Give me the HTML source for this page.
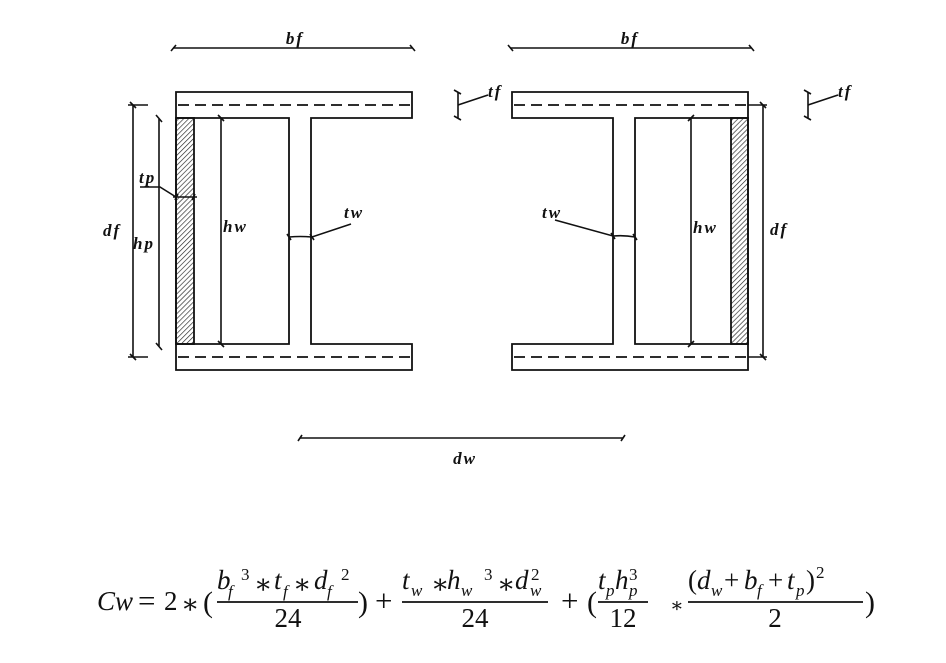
<!DOCTYPE html>
<html><head><meta charset="utf-8"><style>
html,body{margin:0;padding:0;background:#fff;}
svg{display:block;}
.l{font-family:"Liberation Serif",serif;font-style:italic;font-weight:bold;font-size:17px;letter-spacing:2px;fill:#111;}
.m{font-family:"Liberation Serif","DejaVu Serif",serif;font-size:27px;fill:#111;}
.i{font-style:italic;}
.s{font-size:17px;}
.o{font-size:31px;}
</style></head><body>
<svg width="946" height="663" viewBox="0 0 946 663" xmlns="http://www.w3.org/2000/svg">
<defs>
<pattern id="h" patternUnits="userSpaceOnUse" width="3.5" height="3.5" patternTransform="rotate(45)">
<line x1="0" y1="0" x2="0" y2="3.5" stroke="#222" stroke-width="1.3"/>
</pattern>
</defs>
<rect width="946" height="663" fill="#fff"/>
<g stroke="#111" stroke-width="1.8" fill="none">
<!-- LEFT SECTION -->
<rect x="176" y="118" width="18" height="226" fill="url(#h)" stroke="#111"/>
<path d="M176,92 H412 V118 H311 V344 H412 V370 H176 Z"/>
<path d="M176,118 H289 V344 H176"/>
<line x1="178" y1="105" x2="410" y2="105" stroke-dasharray="11,6"/>
<line x1="178" y1="357" x2="410" y2="357" stroke-dasharray="11,6"/>
<!-- RIGHT SECTION -->
<rect x="731" y="118" width="17" height="226" fill="url(#h)" stroke="#111"/>
<path d="M748,92 H512 V118 H613 V344 H512 V370 H748 Z"/>
<path d="M748,118 H635 V344 H748"/>
<line x1="514" y1="105" x2="746" y2="105" stroke-dasharray="11,6"/>
<line x1="514" y1="357" x2="746" y2="357" stroke-dasharray="11,6"/>
</g>
<g stroke="#111" stroke-width="1.6" fill="none">
<!-- bf left -->
<line x1="173" y1="48" x2="412" y2="48"/>
<path d="M171,51 L176,45 M410,45 L415,51"/>
<!-- bf right -->
<line x1="510" y1="48" x2="751" y2="48"/>
<path d="M508,45 L513,51 M749,45 L754,51"/>
<!-- df left -->
<line x1="133" y1="105" x2="133" y2="357"/>
<line x1="128" y1="105" x2="148" y2="105"/>
<line x1="128" y1="357" x2="148" y2="357"/>
<path d="M130,102 L136,108 M130,354 L136,360"/>
<!-- hp left -->
<line x1="159" y1="119" x2="159" y2="346"/>
<path d="M156,115 L162,122 M156,343 L162,350"/>
<!-- hw left -->
<line x1="221" y1="118" x2="221" y2="344"/>
<path d="M218,115 L224,121 M218,341 L224,347"/>
<!-- tp leader -->
<path d="M140,187 H160 L176,197"/>
<line x1="173" y1="197" x2="197" y2="197"/>
<path d="M175,200 L178,194 M192,200 L195,194"/>
<!-- tw left -->
<path d="M351,224 L312,237 Q300,236 289,237"/>
<path d="M287,234 L291,240 M310,234 L314,240"/>
<!-- tf marks -->
<line x1="458" y1="92" x2="458" y2="118"/>
<path d="M454,90 L461,94 M454,116 L461,120 M458,105 L488,95"/>
<line x1="808" y1="92" x2="808" y2="118"/>
<path d="M804,90 L811,94 M804,116 L811,120 M808,105 L838,95"/>
<!-- df right -->
<line x1="763" y1="105" x2="763" y2="357"/>
<line x1="748" y1="105" x2="767" y2="105"/>
<line x1="748" y1="357" x2="767" y2="357"/>
<path d="M760,102 L766,108 M760,354 L766,360"/>
<!-- hw right -->
<line x1="691" y1="118" x2="691" y2="344"/>
<path d="M688,121 L694,115 M688,347 L694,341"/>
<!-- tw right -->
<path d="M555,220 L613,236 Q624,235 635,237"/>
<path d="M611,233 L615,239 M633,234 L637,240"/>
<!-- dw -->
<line x1="300" y1="438" x2="623" y2="438"/>
<path d="M298,441 L302,435 M621,441 L625,435"/>
</g>
<!-- labels -->
<text class="l" x="295" y="44" text-anchor="middle">bf</text>
<text class="l" x="630" y="44" text-anchor="middle">bf</text>
<text class="l" x="488" y="97">tf</text>
<text class="l" x="838" y="97">tf</text>
<text class="l" x="139" y="183">tp</text>
<text class="l" x="103" y="236">df</text>
<text class="l" x="133" y="249">hp</text>
<text class="l" x="223" y="232">hw</text>
<text class="l" x="344" y="218">tw</text>
<text class="l" x="542" y="218">tw</text>
<text class="l" x="693" y="233">hw</text>
<text class="l" x="770" y="235">df</text>
<text class="l" x="465" y="464" text-anchor="middle">dw</text>
<!-- formula -->
<g class="m">
<text x="97" y="610" class="i">Cw</text>
<text x="138" y="611" class="o">=</text>
<text x="164" y="610">2</text>
<text x="181" y="613">∗</text>
<text x="203" y="612" style="font-size:30px">(</text>
<!-- frac 1 -->
<text x="217" y="589" class="i">b</text>
<text x="228" y="597" class="i s">f</text>
<text x="241" y="580" class="s">3</text>
<text x="254" y="593">∗</text>
<text x="274" y="589" class="i">t</text>
<text x="283" y="597" class="i s">f</text>
<text x="293" y="593">∗</text>
<text x="314" y="589" class="i">d</text>
<text x="327" y="597" class="i s">f</text>
<text x="341" y="580" class="s">2</text>
<text x="288" y="627" text-anchor="middle">24</text>
<text x="358" y="612" style="font-size:30px">)</text>
<text x="375" y="611" class="o">+</text>
<!-- frac 2 -->
<text x="402" y="589" class="i">t</text>
<text x="411" y="596" class="i s">w</text>
<text x="431" y="593">∗</text>
<text x="447" y="589" class="i">h</text>
<text x="461" y="596" class="i s">w</text>
<text x="484" y="580" class="s">3</text>
<text x="497" y="593">∗</text>
<text x="515" y="589" class="i">d</text>
<text x="530" y="596" class="i s">w</text>
<text x="531" y="580" class="s">2</text>
<text x="475" y="627" text-anchor="middle">24</text>
<text x="561" y="611" class="o">+</text>
<text x="587" y="612" style="font-size:30px">(</text>
<!-- frac 3 -->
<text x="598" y="589" class="i">t</text>
<text x="606" y="596" class="i s">p</text>
<text x="615" y="589" class="i">h</text>
<text x="629" y="596" class="i s">p</text>
<text x="629" y="580" class="s">3</text>
<text x="623" y="627" text-anchor="middle">12</text>
<text x="670" y="612" style="font-size:20px">∗</text>
<!-- frac 4 -->
<text x="688" y="589">(</text>
<text x="697" y="589" class="i">d</text>
<text x="711" y="596" class="i s">w</text>
<text x="724" y="589">+</text>
<text x="744" y="589" class="i">b</text>
<text x="757" y="596" class="i s">f</text>
<text x="768" y="589">+</text>
<text x="787" y="589" class="i">t</text>
<text x="796" y="596" class="i s">p</text>
<text x="806" y="589">)</text>
<text x="816" y="578" class="s">2</text>
<text x="775" y="627" text-anchor="middle">2</text>
<text x="865" y="612" style="font-size:30px">)</text>
</g>
<g stroke="#111" stroke-width="1.7">
<line x1="217" y1="602" x2="358" y2="602"/>
<line x1="402" y1="602" x2="548" y2="602"/>
<line x1="598" y1="602" x2="648" y2="602"/>
<line x1="688" y1="602" x2="863" y2="602"/>
</g>
</svg>
</body></html>
